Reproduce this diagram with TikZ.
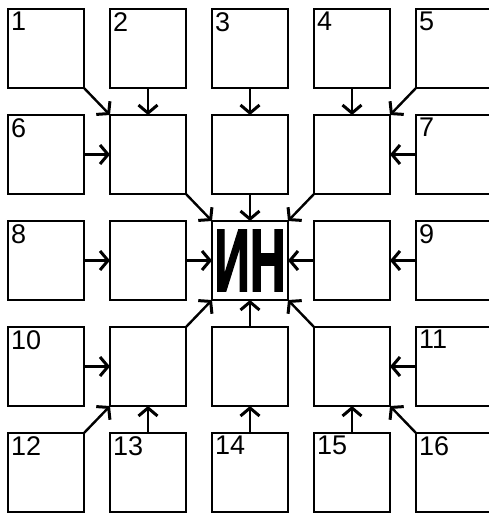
\documentclass[tikz,border=0pt]{standalone}
\usepackage{fontspec}
\setmainfont{Liberation Sans}
\newfontfamily\heavyfont[FakeBold=2.5]{Liberation Sans Bold}
\usepackage{graphicx}
\usetikzlibrary{arrows.meta}
\begin{document}
\begin{tikzpicture}[x=1pt,y=-1pt,
  box/.style={draw=black,line width=2.2pt,minimum width=76pt,minimum height=79pt,inner sep=0pt,outer sep=0pt,fill=white},
  lbl/.style={anchor=north west,inner sep=3pt,font=\fontsize{27}{27}\selectfont},
  arr/.style={line width=2.4pt,-{Straight Barb[length=8pt,width=19pt,line width=3pt]}}]
\useasboundingbox (0,0) rectangle (489,515);
\clip (0,0) rectangle (489,515);
% columns centres: 46,148,250,352,454 ; rows centres: 48.5,154.5,260.5,366.5,472.5
\foreach \c/\x in {1/46,2/148,3/250,4/352,5/454}{
  \foreach \r/\y in {1/48.5,2/154.5,3/260.5,4/366.5,5/472.5}{
    \node[box] (b\r\c) at (\x,\y) {};
  }
}
% labels
\node[lbl] (l1) at (b11.north west) {1};
\node[lbl] (l2) at (b12.north west) {2};
\node[lbl] (l3) at (b13.north west) {3};
\node[lbl] (l4) at (b14.north west) {4};
\node[lbl] (l5) at (b15.north west) {5};
\node[lbl] (l6) at (b21.north west) {6};
\node[lbl] (l7) at (b25.north west) {7};
\node[lbl] (l8) at (b31.north west) {8};
\node[lbl] (l9) at (b35.north west) {9};
\node[lbl] (l10) at (b41.north west) {10};
\node[lbl] (l11) at (b45.north west) {11};
\node[lbl] (l12) at (b51.north west) {12};
\node[lbl] (l13) at (b52.north west) {13};
\node[lbl] (l14) at (b53.north west) {14};
\node[lbl] (l15) at (b54.north west) {15};
\node[lbl] (l16) at (b55.north west) {16};
\node[inner sep=0pt] (in) at (b33.center) {\scalebox{0.56}[1]{\fontsize{88}{88}\heavyfont ИН}};
% outer ring to middle ring
\draw[arr] (b11.south east) -- (b22.north west);
\draw[arr] (b12.south) -- (b22.north);
\draw[arr] (b13.south) -- (b23.north);
\draw[arr] (b14.south) -- (b24.north);
\draw[arr] (b15.south west) -- (b24.north east);
\draw[arr] (b21.east) -- (b22.west);
\draw[arr] (b25.west) -- (b24.east);
\draw[arr] (b31.east) -- (b32.west);
\draw[arr] (b35.west) -- (b34.east);
\draw[arr] (b41.east) -- (b42.west);
\draw[arr] (b45.west) -- (b44.east);
\draw[arr] (b51.north east) -- (b42.south west);
\draw[arr] (b52.north) -- (b42.south);
\draw[arr] (b53.north) -- (b43.south);
\draw[arr] (b54.north) -- (b44.south);
\draw[arr] (b55.north west) -- (b44.south east);
% middle ring to centre
\draw[arr] (b22.south east) -- (b33.north west);
\draw[arr] (b23.south) -- (b33.north);
\draw[arr] (b24.south west) -- (b33.north east);
\draw[arr] (b32.east) -- (b33.west);
\draw[arr] (b34.west) -- (b33.east);
\draw[arr] (b42.north east) -- (b33.south west);
\draw[arr] (b43.north) -- (b33.south);
\draw[arr] (b44.north west) -- (b33.south east);
\end{tikzpicture}
\end{document}
